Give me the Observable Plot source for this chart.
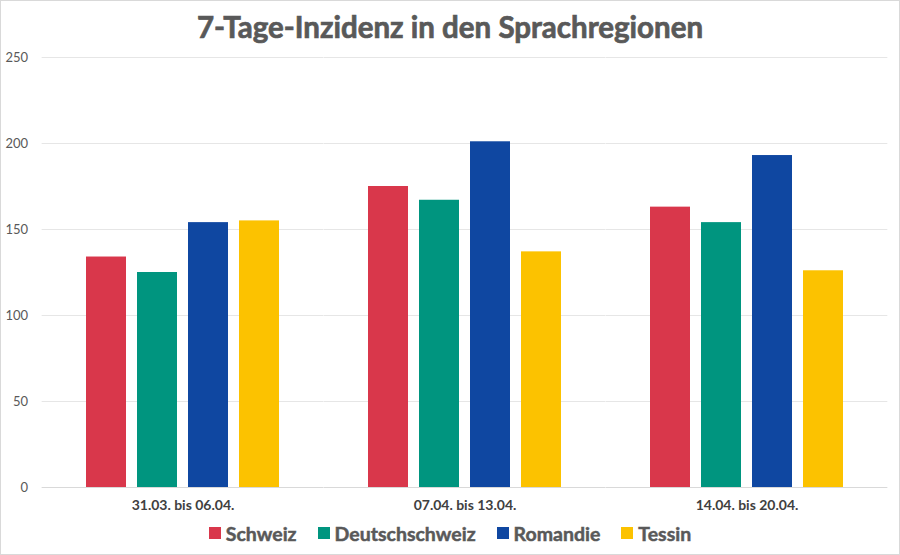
<!DOCTYPE html>
<html>
<head>
<meta charset="utf-8">
<script src="https://cdn.jsdelivr.net/npm/d3@7"></script>
<script src="https://cdn.jsdelivr.net/npm/@observablehq/plot@0.6"></script>
<style>
  body { margin: 0; background: #fff; }
  #chart { width: 900px; height: 555px; box-sizing: border-box; border: 1px solid #d9d9d9; font-family: Lato, sans-serif; background: #fff; overflow: hidden; }
  #title { height: 44px; text-align: center; font-size: 29.5px; font-weight: 700; color: #595959; line-height: 52px; white-space: nowrap; -webkit-text-stroke: 0.7px #595959; }
  #legend { height: 36px; display: flex; justify-content: center; align-items: center; font-size: 19.5px; font-weight: 700; color: #595959; -webkit-text-stroke: 0.5px #595959; }
  .item { display: flex; align-items: center; margin: 0 10.5px; }
  .sw { width: 12px; height: 12px; margin-right: 5px; }
  #plot svg { display: block; }
  #plot svg text { font-size: 13px; fill: #595959; }
  #plot g[aria-label="fx-axis"] text, #plot g[aria-label="fx-axis tick label"] text { font-weight: 700; fill: #404040; font-size: 14px; }
</style>
</head>
<body>
<div id="chart">
  <div id="title">7-Tage-Inzidenz in den Sprachregionen</div>
  <div id="plot"></div>
  <div id="legend"></div>
</div>
<script>
const groups = ["31.03. bis 06.04.", "07.04. bis 13.04.", "14.04. bis 20.04."];
const regions = ["Schweiz", "Deutschschweiz", "Romandie", "Tessin"];
const schweiz = [134, 175, 163];
const deutschschweiz = [125, 167, 154];
const romandie = [154, 201, 193];
const tessin = [155, 137, 126];
const colors = ["#d9374b", "#00957f", "#0f47a1", "#fcc200"];
const yTicks = [0, 50, 100, 150, 200, 250];

const seriesValues = [schweiz, deutschschweiz, romandie, tessin];
const rows = [];
groups.forEach((g, gi) => {
  regions.forEach((r, ri) => rows.push({group: g, region: r, value: seriesValues[ri][gi]}));
});

const W = 898, ML = 41, MR = 11;
const fxPadIn = 0.272, fxPadOut = 0.136;
const fxStep = (W - ML - MR) / (groups.length - fxPadIn + 2 * fxPadOut);
const gap = fxStep * fxPadIn / 2;

const chart = Plot.plot({
  width: W,
  height: 470,
  marginLeft: ML,
  marginRight: MR,
  marginTop: 12,
  marginBottom: 28,
  style: {fontFamily: "Lato, sans-serif", fontSize: "13px", color: "#595959", background: "transparent"},
  facet: {data: rows, x: "group"},
  fx: {domain: groups, paddingInner: fxPadIn, paddingOuter: fxPadOut, label: null, tickSize: 0, tickPadding: 13},
  x: {domain: regions, paddingInner: 0.22, paddingOuter: 0.11, axis: null},
  y: {domain: [0, 250], label: null},
  color: {domain: regions, range: colors},
  marks: [
    Plot.ruleY(yTicks.slice(1), {stroke: "#e6e6e6", insetLeft: -gap, insetRight: -gap}),
    Plot.ruleY([0], {stroke: "#d9d9d9", insetLeft: -gap, insetRight: -gap}),
    Plot.axisY({ticks: yTicks, tickSize: 0, tickPadding: gap + 14, label: null}),
    Plot.barY(rows, {x: "region", y: "value", fill: "region"})
  ]
});
document.getElementById("plot").appendChild(chart);

const legend = document.getElementById("legend");
regions.forEach((r, i) => {
  const it = document.createElement("div");
  it.className = "item";
  const sw = document.createElement("span");
  sw.className = "sw";
  sw.style.background = colors[i];
  const t = document.createElement("span");
  t.textContent = r;
  it.appendChild(sw);
  it.appendChild(t);
  legend.appendChild(it);
});
</script>
</body>
</html>
